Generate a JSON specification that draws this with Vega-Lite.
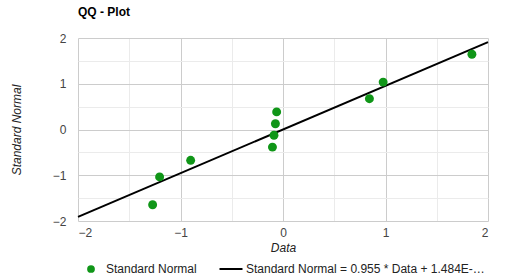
{
  "$schema": "https://vega.github.io/schema/vega-lite/v6.json",
  "width": 410,
  "height": 183,
  "autosize": {"type": "none"},
  "padding": {"left": 78, "top": 38, "right": 34, "bottom": 59},
  "background": "white",
  "config": {
    "font": "Liberation Sans",
    "view": {"stroke": null},
    "axis": {
      "grid": true,
      "gridColor": {"condition": {"test": "datum.value % 1 === 0", "value": "#cccccc"}, "value": "#ebebeb"},
      "gridWidth": 1,
      "ticks": false,
      "domain": false,
      "format": "d",
      "labelColor": "#444444",
      "labelFontSize": 12,
      "labelExpr": "datum.value % 1 === 0 ? datum.label : ''",
      "titleFontStyle": "italic",
      "titleFontWeight": "normal",
      "titleColor": "#222222",
      "titleFontSize": 12
    }
  },
  "title": {"text": "QQ - Plot", "anchor": "start", "frame": "group", "fontSize": 12, "fontWeight": "bold", "color": "#000000", "offset": 13},
  "datasets": {
    "pts": [
      {"data": -1.272, "normal": -1.645, "series": "Standard Normal"},
      {"data": -1.204, "normal": -1.036, "series": "Standard Normal"},
      {"data": -0.901, "normal": -0.674, "series": "Standard Normal"},
      {"data": -0.103, "normal": -0.385, "series": "Standard Normal"},
      {"data": -0.088, "normal": -0.126, "series": "Standard Normal"},
      {"data": -0.074, "normal": 0.126, "series": "Standard Normal"},
      {"data": -0.062, "normal": 0.385, "series": "Standard Normal"},
      {"data": 0.843, "normal": 0.674, "series": "Standard Normal"},
      {"data": 0.977, "normal": 1.036, "series": "Standard Normal"},
      {"data": 1.843, "normal": 1.645, "series": "Standard Normal"}
    ],
    "trend": [
      {"data": -2, "normal": -1.91, "series": "Standard Normal = 0.955 * Data + 1.484E-…"},
      {"data": 2, "normal": 1.91, "series": "Standard Normal = 0.955 * Data + 1.484E-…"}
    ]
  },
  "encoding": {
    "x": {"field": "data", "type": "quantitative", "scale": {"domain": [-2, 2], "nice": false},
      "axis": {"values": [-2, -1.5, -1, -0.5, 0, 0.5, 1, 1.5, 2], "title": "Data", "labelPadding": 6, "titlePadding": 4}},
    "y": {"field": "normal", "type": "quantitative", "scale": {"domain": [-2, 2], "nice": false},
      "axis": {"values": [-2, -1.5, -1, -0.5, 0, 0.5, 1, 1.5, 2], "title": "Standard Normal", "labelPadding": 12, "titlePadding": 29}}
  },
  "layer": [
    {"mark": {"type": "rule", "color": "#333333", "strokeWidth": 1}, "encoding": {"x": {"datum": 0}, "y": null}},
    {"mark": {"type": "rule", "color": "#333333", "strokeWidth": 1}, "encoding": {"y": {"datum": 0}, "x": null}},
    {
      "data": {"name": "trend"},
      "mark": {"type": "line", "strokeWidth": 2},
      "encoding": {
        "color": {"field": "series", "type": "nominal",
          "scale": {"domain": ["Standard Normal", "Standard Normal = 0.955 * Data + 1.484E-…"], "range": ["#109618", "#000000"]},
          "legend": {
            "title": null, "orient": "none", "legendX": 7, "legendY": 225, "direction": "horizontal",
            "labelFontSize": 12, "labelColor": "#222222", "labelLimit": 0, "columnPadding": 18, "labelOffset": 9,
            "symbolSize": 90,
            "encode": {"symbols": {"update": {
              "shape": {"signal": "datum.value === 'Standard Normal' ? 'circle' : 'stroke'"},
              "size": {"signal": "datum.value === 'Standard Normal' ? 60 : 529"},
              "fill": {"signal": "datum.value === 'Standard Normal' ? '#109618' : 'transparent'"},
              "stroke": {"signal": "datum.value === 'Standard Normal' ? '#109618' : '#000000'"},
              "strokeWidth": {"signal": "datum.value === 'Standard Normal' ? 0 : 2"},
              "opacity": {"value": 1}
            }}}
          }}
      }
    },
    {
      "data": {"name": "pts"},
      "mark": {"type": "point", "filled": true, "opacity": 1, "size": 80},
      "encoding": {"color": {"field": "series", "type": "nominal"}}
    }
  ]
}
